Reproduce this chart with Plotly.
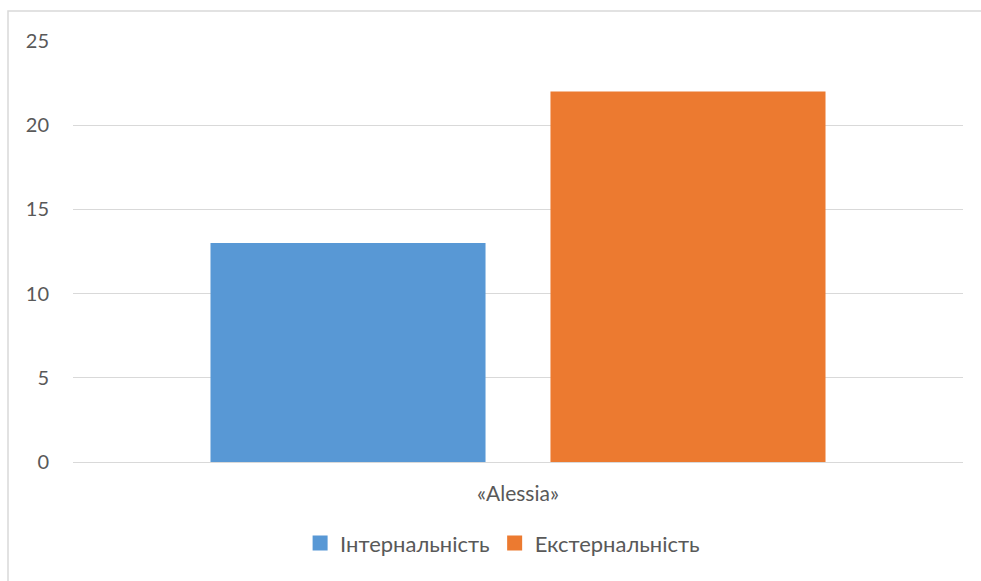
import plotly.graph_objects as go

categories = ["«Alessia»"]
series_names = ["Інтернальність", "Екстернальність"]
internal_values = [13]
external_values = [22]
tick_values = [0, 5, 10, 15, 20, 25]
colors = ["#5898D5", "#EC7A30"]

W, H = 981, 581
L, R, T, B = 73, 18, 41, 119
pw, ph = W - L - R, H - T - B

fig = go.Figure()
for name, vals, col in zip(series_names, [internal_values, external_values], colors):
    fig.add_trace(go.Bar(
        x=categories, y=vals, name=name, showlegend=False,
        marker=dict(color=col, line=dict(width=0)),
    ))
    # legend entry with a larger square swatch
    fig.add_trace(go.Scatter(
        x=[None], y=[None], mode="markers", name=name,
        marker=dict(symbol="square", size=15, color=col),
    ))

font_family = "Lato, 'Open Sans', sans-serif"
fig.update_layout(
    width=W, height=H,
    margin=dict(l=L, r=R, t=T, b=B, pad=0),
    paper_bgcolor="white", plot_bgcolor="white",
    barmode="group", bargap=0.236, bargroupgap=0.191,
    font=dict(family=font_family, size=21, color="#595959"),
    showlegend=True,
    legend=dict(orientation="h", x=0.4827, xanchor="center", y=-0.193, yanchor="middle",
                font=dict(size=22, color="#595959"),
                itemwidth=30, traceorder="normal", tracegroupgap=0),
    xaxis=dict(showgrid=False, showline=False, ticks="", tickfont=dict(size=21),
               ticklabelstandoff=17),
    yaxis=dict(range=[0, 25], tickvals=tick_values, showgrid=True, gridcolor="#D9D9D9",
               gridwidth=1, zeroline=True, zerolinecolor="#D9D9D9", zerolinewidth=1,
               showline=False, ticks="", tickfont=dict(size=20), ticklabelstandoff=23),
)

# chart border (left and top edges visible)
fig.add_shape(type="rect", xref="paper", yref="paper",
              x0=(8 - L) / pw, x1=(W + 5 - L) / pw,
              y0=-(H + 5 - T - ph) / ph, y1=(T + ph - 11) / ph,
              line=dict(color="#D9D9D9", width=1.5), layer="below")

fig.write_html("out.html")
